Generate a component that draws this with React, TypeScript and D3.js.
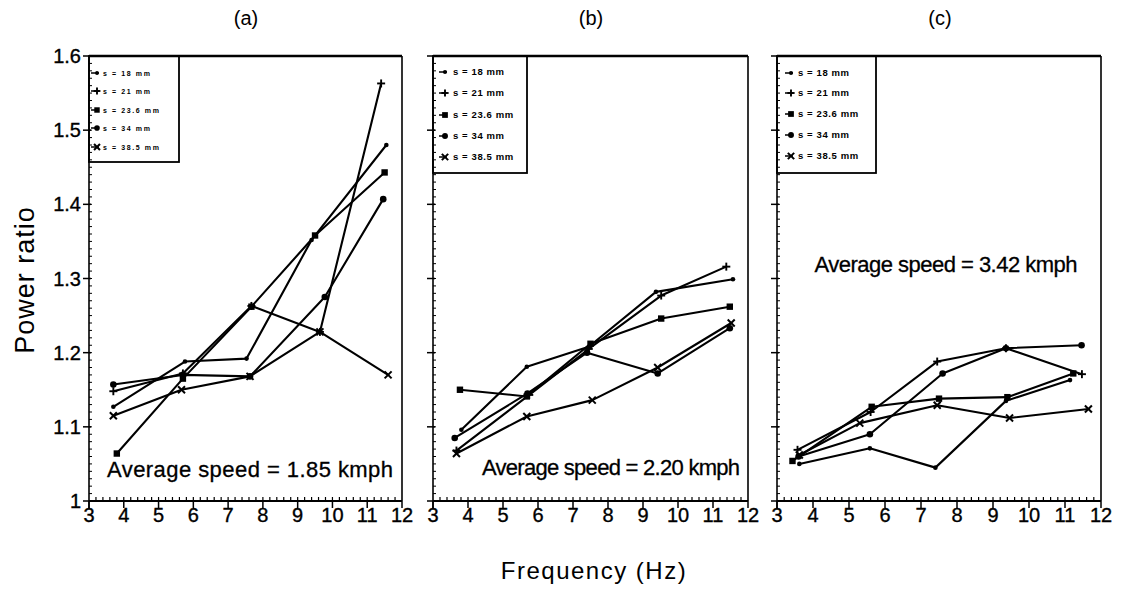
import React from "react";
import * as d3 from "d3";

// ---- data ----
const FREQ_TICKS = [3, 4, 5, 6, 7, 8, 9, 10, 11, 12];
const RATIO_TICKS = [1, 1.1, 1.2, 1.3, 1.4, 1.5, 1.6];
const RATIO_LABELS = ["1", "1.1", "1.2", "1.3", "1.4", "1.5", "1.6"];
const SERIES_LABELS = ["s = 18 mm", "s = 21 mm", "s = 23.6 mm", "s = 34 mm", "s = 38.5 mm"];
const PANEL_TITLES = ["(a)", "(b)", "(c)"];
const SPEED_TEXTS = ["Average speed = 1.85 kmph", "Average speed = 2.20 kmph", "Average speed = 3.42 kmph"];

// panel (a)
const a18 = [[3.7, 1.127], [5.76, 1.188], [7.53, 1.192], [9.4, 1.352], [11.55, 1.48]];
const a21 = [[3.7, 1.148], [5.7, 1.172], [7.67, 1.263], [9.64, 1.228], [11.4, 1.563]];
const a236 = [[3.8, 1.064], [5.7, 1.165], [7.67, 1.262], [9.5, 1.358], [11.5, 1.443]];
const a34 = [[3.7, 1.157], [5.7, 1.17], [7.63, 1.168], [9.78, 1.275], [11.46, 1.407]];
const a385 = [[3.7, 1.115], [5.66, 1.15], [7.63, 1.168], [9.64, 1.228], [11.6, 1.17]];
// panel (b)
const b18 = [[3.81, 1.096], [5.68, 1.181], [7.45, 1.208], [9.37, 1.282], [11.57, 1.299]];
const b21 = [[3.67, 1.068], [5.75, 1.143], [7.45, 1.205], [9.52, 1.277], [11.38, 1.316]];
const b236 = [[3.77, 1.15], [5.68, 1.141], [7.5, 1.212], [9.52, 1.246], [11.48, 1.262]];
const b34 = [[3.62, 1.085], [5.7, 1.145], [7.4, 1.2], [9.42, 1.172], [11.48, 1.233]];
const b385 = [[3.67, 1.064], [5.68, 1.114], [7.55, 1.136], [9.42, 1.18], [11.52, 1.24]];
// panel (c)
const c18 = [[3.62, 1.05], [5.58, 1.071], [7.4, 1.045], [9.36, 1.135], [11.14, 1.163]];
const c21 = [[3.57, 1.069], [5.6, 1.12], [7.45, 1.188], [9.36, 1.206], [11.47, 1.171]];
const c236 = [[3.43, 1.054], [5.63, 1.127], [7.5, 1.138], [9.4, 1.14], [11.23, 1.172]];
const c34 = [[3.6, 1.06], [5.58, 1.09], [7.6, 1.172], [9.36, 1.206], [11.46, 1.21]];
const c385 = [[3.62, 1.062], [5.3, 1.105], [7.45, 1.129], [9.46, 1.112], [11.65, 1.124]];

const PANEL_DATA = [
  [a18, a21, a236, a34, a385],
  [b18, b21, b236, b34, b385],
  [c18, c21, c236, c34, c385],
];

// ---- layout ----
const FONT = "'Liberation Sans', Arial, Helvetica, sans-serif";
const Y_TOP = 56;
const Y_BOT = 501;
const PANELS = [
  { x0: 89, x1: 402, titleX: 246, speedX: 250, speedY: 477, speedLen: 286,
    leg: { w: 90, h: 106, rows: [73, 91, 110, 128, 147], mx: 97, tx: 103, fs: 7, ls: 1.6 } },
  { x0: 433, x1: 748, titleX: 591, speedX: 611, speedY: 475, speedLen: 258,
    leg: { w: 94, h: 117, rows: [72, 93, 115, 136, 157], mx: 445, tx: 453, fs: 9.5, ls: 0.6 } },
  { x0: 777, x1: 1101, titleX: 940, speedX: 946, speedY: 272, speedLen: 263,
    leg: { w: 99, h: 117, rows: [73, 93, 114, 135, 156], mx: 791, tx: 798, fs: 9.5, ls: 0.6 } },
];
const MARKERS = ["dot", "plus", "square", "circle", "cross"];

function Marker({ kind, x, y, s = 1 }: { kind: string; x: number; y: number; s?: number }) {
  switch (kind) {
    case "dot":
      return <circle cx={x} cy={y} r={2.3 * s} fill="#000" />;
    case "plus":
      return (
        <g stroke="#000" strokeWidth={1.9}>
          <line x1={x - 4 * s} x2={x + 4 * s} y1={y} y2={y} />
          <line x1={x} x2={x} y1={y - 4 * s} y2={y + 4 * s} />
        </g>
      );
    case "square":
      return <rect x={x - 3.2 * s} y={y - 3.2 * s} width={6.4 * s} height={6.4 * s} fill="#000" />;
    case "circle":
      return <circle cx={x} cy={y} r={3.3 * s} fill="#000" />;
    default:
      return (
        <g stroke="#000" strokeWidth={2}>
          <line x1={x - 3.5 * s} x2={x + 3.5 * s} y1={y - 3.5 * s} y2={y + 3.5 * s} />
          <line x1={x - 3.5 * s} x2={x + 3.5 * s} y1={y + 3.5 * s} y2={y - 3.5 * s} />
        </g>
      );
  }
}

function Panel({ idx }: { idx: number }) {
  const p = PANELS[idx];
  const x = d3.scaleLinear().domain([3, 12]).range([p.x0, p.x1]);
  const y = d3.scaleLinear().domain([1, 1.6]).range([Y_BOT, Y_TOP]);
  const line = d3
    .line<number[]>()
    .x((d) => x(d[0]))
    .y((d) => y(d[1]));
  const minorY = d3.range(1.01, 1.6, 0.01);
  const minorX = d3.range(3.2, 12, 0.2);
  const series = PANEL_DATA[idx];
  const L = p.leg;
  return (
    <g>
      {/* frame */}
      <line x1={p.x0} x2={p.x1} y1={Y_TOP} y2={Y_TOP} stroke="#000" strokeWidth={2.6} />
      <line x1={p.x1} x2={p.x1} y1={Y_TOP} y2={Y_BOT} stroke="#000" strokeWidth={1.6} />
      <line x1={p.x0} x2={p.x0} y1={Y_TOP} y2={Y_BOT + 7} stroke="#000" strokeWidth={1.6} />
      <line x1={p.x0} x2={p.x1} y1={Y_BOT} y2={Y_BOT} stroke="#000" strokeWidth={2} />
      {/* minor ticks */}
      {minorY.map((v, i) => (
        <line key={"my" + i} x1={p.x0} x2={p.x0 + 3} y1={y(v)} y2={y(v)} stroke="#000" strokeWidth={1} />
      ))}
      {minorX.map((v, i) => (
        <line key={"mx" + i} x1={x(v)} x2={x(v)} y1={Y_BOT} y2={Y_BOT - 4} stroke="#000" strokeWidth={1.2} />
      ))}
      {/* major ticks */}
      {RATIO_TICKS.map((v, i) => (
        <line key={"ty" + i} x1={p.x0 - 6} x2={p.x0 + 2} y1={y(v)} y2={y(v)} stroke="#000" strokeWidth={1.5} />
      ))}
      {FREQ_TICKS.map((v, i) => (
        <g key={"tx" + i}>
          <line x1={x(v)} x2={x(v)} y1={Y_BOT} y2={Y_BOT + 7} stroke="#000" strokeWidth={1.5} />
          <text x={x(v)} y={522} textAnchor="middle" fontSize={20} fontFamily={FONT} stroke="#000" strokeWidth={0.35}>
            {v}
          </text>
        </g>
      ))}
      {idx === 0 &&
        RATIO_TICKS.map((v, i) => (
          <text key={"ly" + i} x={p.x0 - 8} y={y(v) + 7} textAnchor="end" fontSize={20} fontFamily={FONT} stroke="#000" strokeWidth={0.35}>
            {RATIO_LABELS[i]}
          </text>
        ))}
      {/* title */}
      <text x={p.titleX} y={25} textAnchor="middle" fontSize={20} fontFamily={FONT}>
        {PANEL_TITLES[idx]}
      </text>
      {/* series */}
      {series.map((s, si) => (
        <g key={"s" + si}>
          <path d={line(s) || ""} fill="none" stroke="#000" strokeWidth={2.1} strokeLinejoin="round" />
          {s.map((d, di) => (
            <Marker key={di} kind={MARKERS[si]} x={x(d[0])} y={y(d[1])} />
          ))}
        </g>
      ))}
      {/* legend */}
      <rect x={p.x0} y={Y_TOP} width={L.w} height={L.h} fill="none" stroke="#000" strokeWidth={1.8} />
      {SERIES_LABELS.map((lab, i) => (
        <g key={"lg" + i}>
          <line x1={L.mx - 6} x2={L.mx + 2} y1={L.rows[i]} y2={L.rows[i]} stroke="#000" strokeWidth={1.5} />
          <Marker kind={MARKERS[i]} x={L.mx} y={L.rows[i]} s={idx === 0 ? 0.85 : 0.9} />
          <text
            x={L.tx}
            y={L.rows[i] + L.fs * 0.36}
            fontSize={L.fs}
            fontWeight="bold"
            fontFamily={FONT}
            letterSpacing={L.ls}
          >
            {lab}
          </text>
        </g>
      ))}
      {/* speed annotation */}
      <text
        x={p.speedX}
        y={p.speedY}
        textAnchor="middle"
        fontSize={22}
        fontFamily={FONT}
        textLength={p.speedLen}
        lengthAdjust="spacing"
        stroke="#000"
        strokeWidth={0.3}
      >
        {SPEED_TEXTS[idx]}
      </text>
    </g>
  );
}

export default function App() {
  return (
    <svg
      width={1130}
      height={593}
      viewBox="0 0 1130 593"
      style={{ position: "absolute", left: 0, top: 0, background: "#fff" }}
    >
      <rect x={0} y={0} width={1130} height={593} fill="#fff" />
      {PANELS.map((_, i) => (
        <Panel key={i} idx={i} />
      ))}
      <text
        transform="translate(34,280) rotate(-90)"
        textAnchor="middle"
        fontSize={27}
        letterSpacing={1}
        fontFamily={FONT}
      >
        Power ratio
      </text>
      <text x={594} y={579} textAnchor="middle" fontSize={24} letterSpacing={1.5} fontFamily={FONT}>
        Frequency (Hz)
      </text>
    </svg>
  );
}
